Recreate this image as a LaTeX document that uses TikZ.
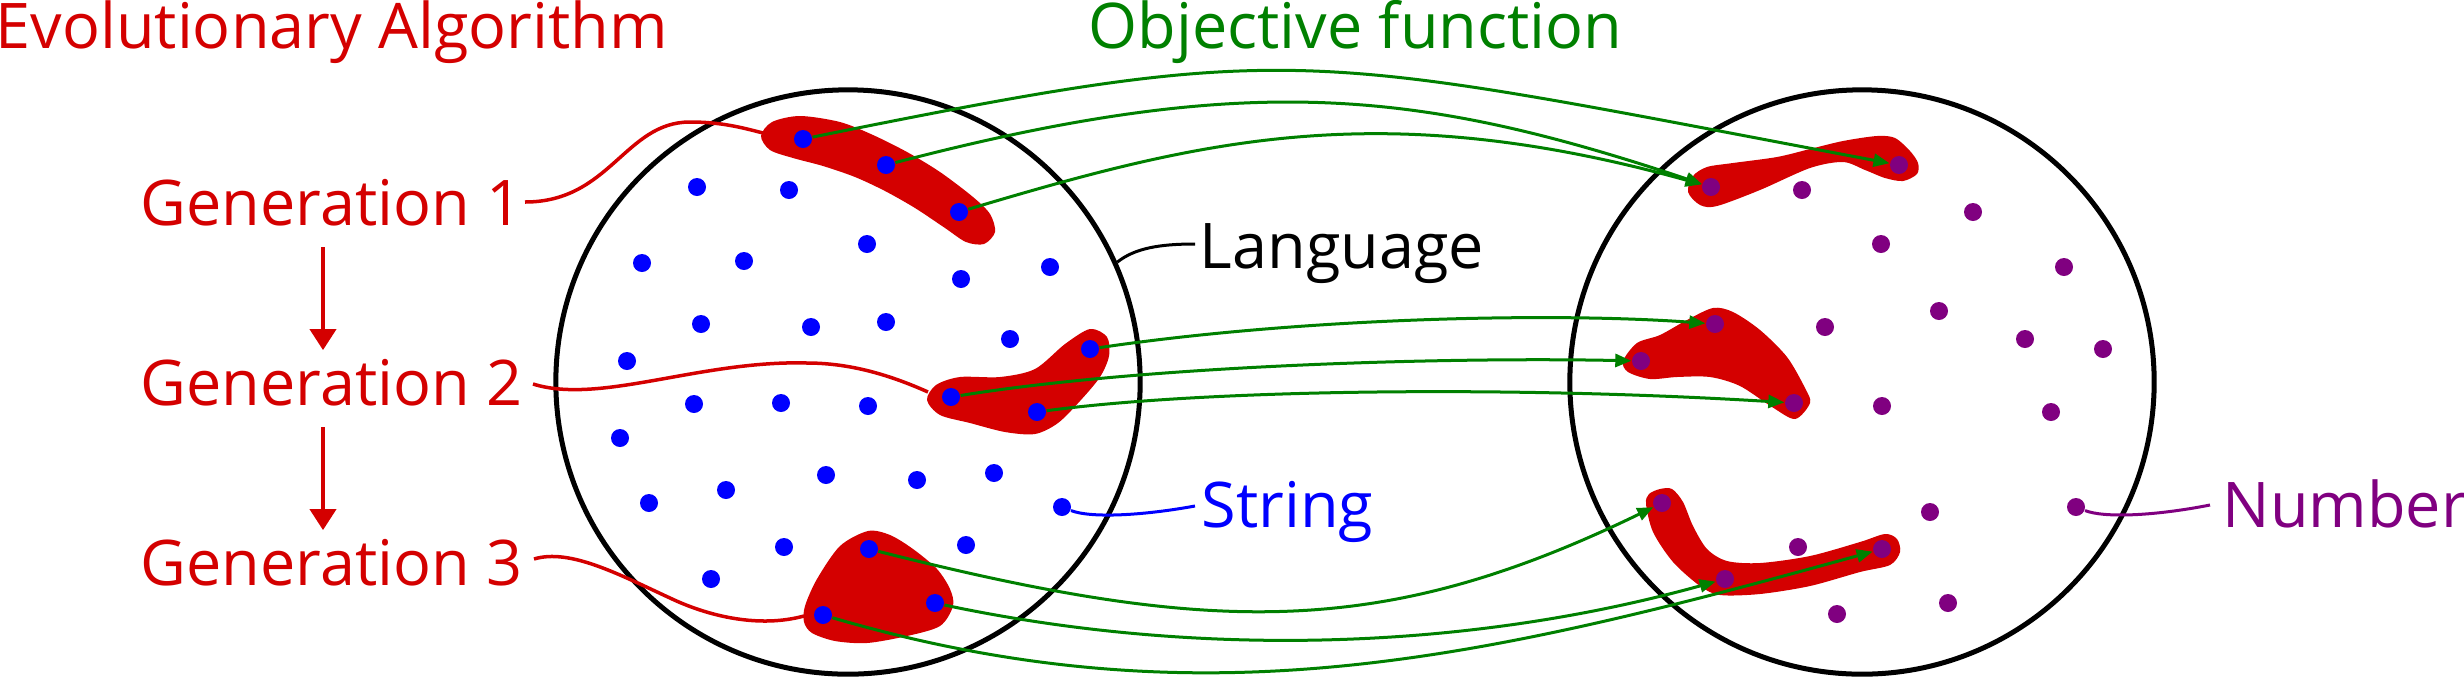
\documentclass[tikz,border=0pt]{standalone}
\usepackage{fontspec}
\setmainfont{Open Sans}
\usetikzlibrary{arrows.meta}
\definecolor{ered}{HTML}{D40000}
\definecolor{ogreen}{HTML}{008000}
\definecolor{sblue}{HTML}{0000FF}
\definecolor{npurple}{HTML}{800080}
\begin{document}
\begin{tikzpicture}[x=0.01cm,y=-0.01cm,
  lbl/.style={font=\fontsize{17.9pt}{21pt}\selectfont, inner sep=0pt, anchor=base west},
  langcircle/.style={draw=black, line width=0.05cm, circle, minimum size=5.84cm, inner sep=0pt},
  bdot/.style={circle, fill=sblue, minimum size=0.18cm, inner sep=0pt},
  pdot/.style={circle, fill=npurple, minimum size=0.18cm, inner sep=0pt},
  blob/.style={fill=ered},
  mapline/.style={draw=ogreen, line width=0.03cm, -{Triangle[length=0.16cm,width=0.13cm]}},
  genline/.style={draw=ered, line width=0.035cm},
  ptr/.style={line width=0.03cm},
  genarrow/.style={draw=ered, line width=0.04cm, -{Triangle[length=0.21cm,width=0.26cm]}},
]
\useasboundingbox (0,0) rectangle (2464,678);

% texts
\node[lbl, text=ered] (ea) at (-5,48) {Evolutionary Algorithm};
\node[lbl, text=ogreen] (of) at (1088,48) {Objective function};
\node[lbl, text=ered] (g1) at (140,225) {Generation 1};
\node[lbl, text=ered] (g2) at (140,405) {Generation 2};
\node[lbl, text=ered] (g3) at (140,585) {Generation 3};
\node[lbl] (lt) at (1199,268) {Language};
\node[lbl, text=sblue] (st) at (1201,527) {String};
\node[lbl, text=npurple] (nt) at (2222,527) {Number};

% circles
\node[langcircle] (L) at (848,382) {};
\node[langcircle] (R) at (1862,382) {};

% blobs
\fill[blob] plot[smooth cycle] coordinates {(761,136) (772,122) (800,116) (840,122) (873,135) (907,152) (940,172) (973,197) (990,214) (995,232) (984,244) (966,242) (945,228) (915,208) (885,191) (855,177) (823,166) (793,158) (770,150)};
\fill[blob] plot[smooth cycle] coordinates {(927,400) (936,385) (960,377) (1000,377) (1035,369) (1065,344) (1090,329) (1107,337) (1109,356) (1100,377) (1080,401) (1058,423) (1035,434) (1005,432) (970,423) (940,415)};
\fill[blob] plot[smooth cycle] coordinates {(868,531) (840,546) (817,579) (805,606) (804,622) (812,633) (835,641) (867,643) (907,636) (940,626) (953,606) (950,589) (937,569) (913,549) (890,535)};
\fill[blob] plot[smooth cycle] coordinates {(1688,192) (1693,176) (1707,167) (1733,163) (1777,157) (1810,149) (1843,141) (1877,136) (1895,138) (1910,151) (1918,163) (1917,174) (1903,181) (1885,178) (1865,170) (1843,162) (1810,168) (1760,190) (1717,206) (1700,205)};
\fill[blob] plot[smooth cycle] coordinates {(1623,361) (1637,343) (1660,335) (1687,320) (1713,308) (1733,312) (1760,330) (1787,357) (1805,388) (1810,403) (1795,419) (1772,407) (1740,386) (1710,377) (1677,377) (1650,379) (1628,372)};
\fill[blob] plot[smooth cycle] coordinates {(1646,504) (1649,494) (1660,489) (1672,489) (1683,502) (1693,526) (1707,549) (1727,561) (1760,563) (1810,556) (1860,542) (1885,534) (1897,539) (1900,552) (1890,565) (1860,572) (1810,586) (1760,594) (1720,595) (1700,586) (1673,562) (1653,532)};

% blue dots
\foreach \n/\p in {1/{(803,139)},2/{(886,165)},3/{(959,212)},4/{(697,187)},5/{(789,190)},6/{(867,244)},7/{(642,263)},8/{(744,261)},9/{(961,279)},10/{(1050,267)},11/{(701,324)},12/{(811,327)},13/{(886,322)},14/{(1010,339)},15/{(627,361)},16/{(1090,349)},17/{(951,397)},18/{(1037,412)},19/{(694,404)},20/{(781,403)},21/{(868,406)},22/{(620,438)},23/{(649,503)},24/{(726,490)},25/{(826,475)},26/{(917,480)},27/{(994,473)},28/{(1062,507)},29/{(784,547)},30/{(966,545)},31/{(869,549)},32/{(711,579)},33/{(935,603)},34/{(823,615)}}
  \node[bdot] (l\n) at \p {};
% purple dots
\foreach \n/\p in {1/{(1711,187)},2/{(1899,165)},3/{(1802,190)},4/{(1973,212)},5/{(1881,244)},6/{(2064,267)},7/{(1939,311)},8/{(2025,339)},9/{(1825,327)},10/{(1715,324)},11/{(1641,361)},12/{(1794,403)},13/{(1882,406)},14/{(2051,412)},15/{(2103,349)},16/{(1662,503)},17/{(1725,579)},18/{(1882,549)},19/{(1798,547)},20/{(1930,512)},21/{(1948,603)},22/{(1837,614)},23/{(2076,507)}}
  \node[pdot] (r\n) at \p {};

% generation connectors
\coordinate (b1) at (763,133);
\coordinate (b2) at (928,392);
\coordinate (b3) at (804,616);
\coordinate (c1) at (525,202);
\coordinate (c2) at (533,384);
\coordinate (c3) at (534,559);
\draw[genline] (c1) .. controls (610,202) and (625,122) .. (690,122) .. controls (720,122) and (740,127) .. (b1);
\draw[genline] (c2) .. controls (600,405) and (700,360) .. (807,363) .. controls (850,363) and (890,375) .. (b2);
\draw[genline] (c3) .. controls (570,548) and (620,575) .. (670,598) .. controls (710,617) and (760,628) .. (b3);

% generation arrows
\coordinate (ax) at (323,0);
\draw[genarrow, shorten <=0.21cm, shorten >=0.08cm] (g1.south -| ax) -- (g2.north -| ax);
\draw[genarrow, shorten <=0.21cm, shorten >=0.08cm] (g2.south -| ax) -- (g3.north -| ax);

% pointers
\coordinate (lp) at (1195,244);
\coordinate (sp) at (1195,506);
\coordinate (np) at (2210,505);
\draw[ptr] (L.24) .. controls (1135,248) and (1160,244) .. (lp);
\draw[ptr, draw=sblue] (l28) .. controls (1090,518) and (1140,516) .. (sp);
\draw[ptr, draw=npurple] (r23) .. controls (2104,518) and (2154,516) .. (np);

% mapping arrows
\draw[mapline] (l1) .. controls (1303,38) and (1299,52) .. (r2);
\draw[mapline] (l2) .. controls (1250,70) and (1420,90) .. (r1);
\draw[mapline] (l3) .. controls (1200,140) and (1380,95) .. (r1);
\draw[mapline] (l16) .. controls (1300,318) and (1550,312) .. (r10);
\draw[mapline] (l17) .. controls (1150,365) and (1450,357) .. (r11);
\draw[mapline] (l18) .. controls (1200,390) and (1500,385) .. (r12);
\draw[mapline] (l31) .. controls (1210,635) and (1380,640) .. (r16);
\draw[mapline] (l33) .. controls (1180,655) and (1450,655) .. (r17);
\draw[mapline] (l34) .. controls (1200,725) and (1480,660) .. (r18);
\end{tikzpicture}
\end{document}
